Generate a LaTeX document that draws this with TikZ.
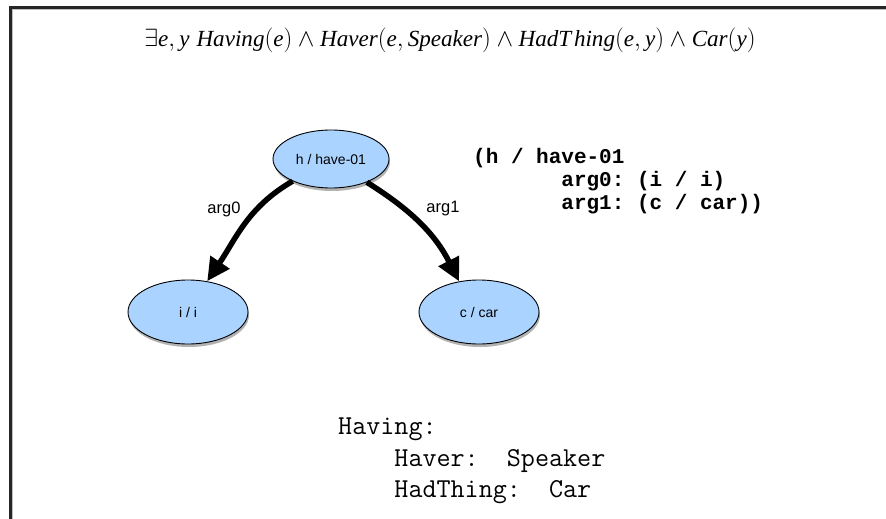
\documentclass[tikz,border=0pt]{standalone}
\usepackage{fontspec}
\setmainfont{Liberation Serif}
\setsansfont{Liberation Sans}
\newfontfamily\codefont{Liberation Mono}
\usetikzlibrary{shapes.geometric,arrows.meta,shadows}
\definecolor{nodeblue}{RGB}{170,212,255}
\tikzset{
  concept/.style={ellipse, draw=black, line width=0.9pt, fill=nodeblue,
    minimum width=120pt, minimum height=64pt, inner sep=0pt,
    font=\sffamily\fontsize{14}{16}\selectfont,
    drop shadow={shadow xshift=1pt, shadow yshift=-3pt, fill=black, opacity=0.3}},
  rel/.style={line width=5.5pt, -{Triangle[length=23pt,width=22pt]}},
  rellabel/.style={font=\sffamily\fontsize{16.5}{18}\selectfont},
  frameline/.style={line width=2.2pt, black!85},
}
\begin{document}
\begin{tikzpicture}[x=1pt,y=-1pt]
\useasboundingbox (0,0) rectangle (886,519);
% frame
\draw[line width=1pt, black!25] (12.8,530) -- (12.8,9.8) -- (900,9.8);
\draw[frameline] (10.5,530) -- (10.5,7.5) -- (900,7.5);
% formula
\node[font=\fontsize{23.1}{26}\selectfont] (formula) at (450,40)
  {$\exists\textit{e},\textit{y}\;\textit{Having}(\textit{e})\wedge\textit{Haver}(\textit{e},\textit{Speaker})\wedge\textit{HadT}\mkern2mu\textit{hing}(\textit{e},\textit{y})\wedge\textit{Car}(\textit{y})$};
% graph
\node[concept, minimum width=116pt, minimum height=58pt] (h) at (331,159) {h / have-01};
\node[concept] (i) at (188,312) {i / i};
\node[concept] (c) at (479,312) {c / car};
\draw[rel] (h.210) to[out=210,in=56] (i.58);
\draw[rel] (h.-33) to[out=-32,in=117] (c.123);
\node[rellabel] (l0) at (224,209) {arg0};
\node[rellabel] (l1) at (443,209) {arg1};
% AMR text
\node[anchor=north west, align=left, inner sep=0pt,
      font=\codefont\bfseries\fontsize{21}{23}\selectfont] (amr) at (473,148)
  {(h~/~have-01\\
   \phantom{(h~/~ha}arg0:~(i~/~i)\\
   \phantom{(h~/~ha}arg1:~(c~/~car))};
% frame text
\node[anchor=north west, align=left, inner sep=0pt,
      font=\ttfamily\fontsize{27.3}{31.5}\selectfont] (frame) at (338,418)
  {Having:\\
   \phantom{Havi}Haver:~~Speaker\\
   \phantom{Havi}HadThing:~~Car};
\end{tikzpicture}
\end{document}
